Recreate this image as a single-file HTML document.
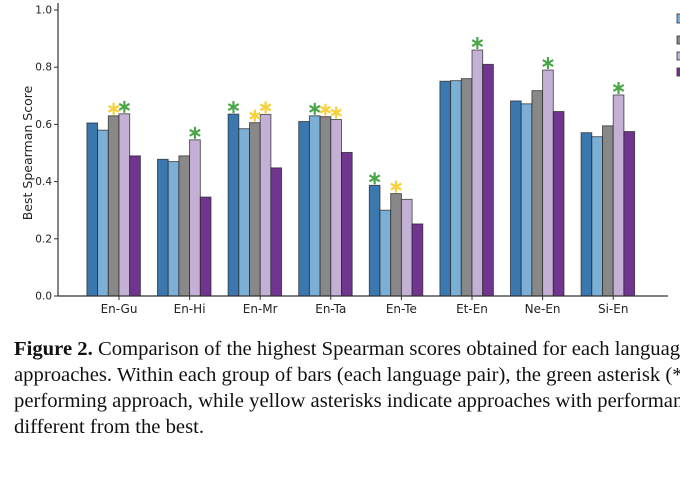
<!DOCTYPE html>
<html><head><meta charset="utf-8"><style>
html,body{margin:0;padding:0;background:#fff;width:680px;height:500px;overflow:hidden}
svg{display:block}
</style></head><body>
<svg id="s" width="680" height="500" xmlns="http://www.w3.org/2000/svg" font-family="'DejaVu Sans',sans-serif">
<g id="bars"></g>
<g stroke="#333" stroke-width="1.2">
<line x1="58" y1="3" x2="58" y2="296"/>
<line x1="58" y1="296" x2="668" y2="296"/>
</g>
<g font-size="10.5" fill="#222" text-anchor="end">
<text x="52" y="299.5">0.0</text>
<text x="52" y="242.3">0.2</text>
<text x="52" y="185.1">0.4</text>
<text x="52" y="127.9">0.6</text>
<text x="52" y="70.7">0.8</text>
<text x="52" y="13.5">1.0</text>
</g>
<g stroke="#333" stroke-width="1">
<line x1="54" y1="296" x2="58" y2="296"/><line x1="54" y1="238.8" x2="58" y2="238.8"/><line x1="54" y1="181.6" x2="58" y2="181.6"/><line x1="54" y1="124.4" x2="58" y2="124.4"/><line x1="54" y1="67.2" x2="58" y2="67.2"/><line x1="54" y1="10" x2="58" y2="10"/>
</g>
<text x="32" y="153" font-size="12.5" fill="#222" text-anchor="middle" transform="rotate(-90 32 153)">Best Spearman Score</text>
<g id="xl" font-size="12" fill="#222" text-anchor="middle"></g>
<g stroke="#333" stroke-width="0.8">
<rect x="677" y="14" width="6" height="9" fill="#7bafd6"/>
<rect x="677" y="36" width="6" height="8" fill="#888"/>
<rect x="677" y="52" width="6" height="8" fill="#c5b0d5"/>
<rect x="677" y="68" width="6" height="8" fill="#72358f"/>
</g>
<g font-family="'Liberation Serif',serif" font-size="19.5" fill="#111" transform="translate(14,0) scale(1.06,1)">
<text x="0" y="355"><tspan font-weight="bold">Figure 2.</tspan> Comparison of the highest Spearman scores obtained for each language pair</text>
<text x="0" y="381">approaches. Within each group of bars (each language pair), the green asterisk (*)</text>
<text x="0" y="407">performing approach, while yellow asterisks indicate approaches with performance not</text>
<text x="0" y="433">different from the best.</text>
</g>
</svg>
<script>
var cols=["#3b78b0","#7bafd6","#888888","#c5b0d5","#72358f"];
var names=["En-Gu","En-Hi","En-Mr","En-Ta","En-Te","Et-En","Ne-En","Si-En"];
var v=[[.605,.58,.63,.637,.49],[.478,.47,.49,.546,.346],[.636,.585,.606,.635,.448],[.61,.63,.627,.617,.502],[.387,.30,.358,.338,.252],[.751,.753,.760,.86,.81],[.682,.672,.718,.79,.645],[.571,.557,.595,.703,.575]];
var st=[[[2,'y'],[3,'g']],[[3,'g']],[[0,'g'],[2,'y'],[3,'y']],[[1,'g'],[2,'y'],[3,'y']],[[0,'g'],[2,'y']],[[3,'g']],[[3,'g']],[[3,'g']]];
var h='',xl='',w=10.7;
function star(cx,cy,c){var r=6,s='';for(var a=0;a<3;a++){var t=Math.PI/2+a*Math.PI/3;s+='<line x1="'+(cx-r*Math.cos(t))+'" y1="'+(cy-r*Math.sin(t))+'" x2="'+(cx+r*Math.cos(t))+'" y2="'+(cy+r*Math.sin(t))+'" stroke="'+c+'" stroke-width="2.2"/>';}return s;}
for(var g=0;g<8;g++){var c=119+70.6*g;var x0=c-3*w;
for(var b=0;b<5;b++){var y=296-286*v[g][b];h+='<rect x="'+(x0+b*w)+'" y="'+y+'" width="'+w+'" height="'+(296-y)+'" fill="'+cols[b]+'" stroke="#222" stroke-opacity="0.75" stroke-width="0.9"/>';}
st[g].forEach(function(p){var b=p[0];var y=296-286*v[g][b];h+=star(x0+b*w+w/2,y-7,p[1]=='g'?'#4aa64a':'#f7d13a');});
h+='<line x1="'+c+'" y1="296" x2="'+c+'" y2="300" stroke="#333"/>';
xl+='<text x="'+c+'" y="313">'+names[g]+'</text>';}
document.getElementById('bars').innerHTML=h;
document.getElementById('xl').innerHTML=xl;
</script>
</body></html>
